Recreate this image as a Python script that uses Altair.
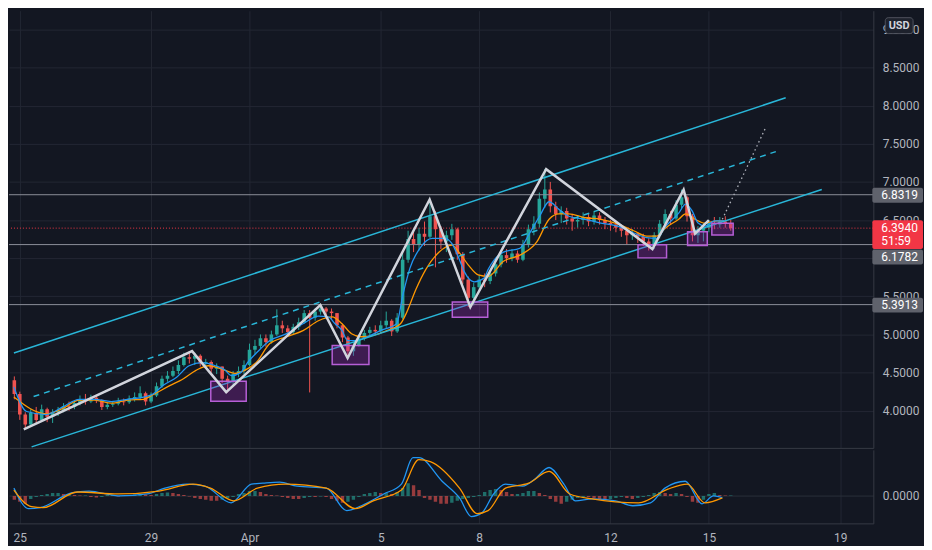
import altair as alt
import pandas as pd

# ---------------- layout / style ----------------
W = 870
H_MAIN = 440
H_MACD = 74
BG = "#131722"
GRID = "#232733"
SEP = "#363a45"
AXT = "#b2b5be"
FONT = "Roboto"
UP = "#26a69a"
DOWN = "#ef5350"

# x in days from 25 Mar 00:00
X_DOMAIN = [-0.178, 25.86]
P_DOMAIN = [3.513, 9.244]
M_DOMAIN = [-0.168, 0.282]

tick_days = [0, 4, 7, 11, 14, 18, 21, 25]
tick_labels = ["25", "29", "Apr", "5", "8", "12", "15", "19"]
price_ticks = [4.0, 4.5, 5.0, 5.5, 6.0, 6.5, 7.0, 7.5, 8.0, 8.5, 9.0]

# ---------------- candles (4h) ----------------
first_open = 4.40
close = [4.22, 3.95, 3.82, 3.97, 3.88, 4.02, 3.92, 3.98, 4.00, 4.06,
         4.05, 4.10, 4.15, 4.12, 4.17, 4.14, 4.05, 4.08, 4.09, 4.12,
         4.11, 4.16, 4.18, 4.23, 4.12, 4.20, 4.32, 4.42, 4.46, 4.52,
         4.60, 4.70, 4.68, 4.72, 4.62, 4.64, 4.55, 4.58, 4.42, 4.38,
         4.48, 4.52, 4.60, 4.80, 4.85, 4.95, 4.90, 5.00, 5.12, 5.08,
         5.03, 5.10, 5.16, 5.28, 5.22, 5.30, 5.34, 5.30, 5.28, 5.12,
         4.96, 4.78, 4.86, 4.95, 5.02, 5.06, 5.04, 5.12, 5.18, 5.04,
         5.22, 5.98, 6.25, 6.18, 6.32, 6.28, 6.55, 6.38, 6.22, 6.30,
         6.38, 6.05, 5.72, 5.48, 5.62, 5.72, 5.70, 5.80, 5.92, 6.04,
         6.00, 6.06, 5.98, 6.18, 6.38, 6.45, 6.78, 6.90, 6.68, 6.58,
         6.62, 6.52, 6.48, 6.50, 6.54, 6.48, 6.56, 6.50, 6.46, 6.44,
         6.40, 6.36, 6.30, 6.32, 6.28, 6.22, 6.16, 6.30, 6.45, 6.58,
         6.52, 6.70, 6.80, 6.55, 6.30, 6.36, 6.40, 6.46, 6.44, 6.48,
         6.45, 6.394]
high = [4.45, 4.25, 3.98, 4.02, 4.05, 4.08, 4.04, 4.02, 4.05, 4.10,
        4.12, 4.14, 4.20, 4.22, 4.21, 4.19, 4.15, 4.11, 4.12, 4.17,
        4.16, 4.20, 4.24, 4.32, 4.25, 4.24, 4.37, 4.46, 4.52, 4.58,
        4.66, 4.76, 4.78, 4.76, 4.74, 4.68, 4.66, 4.62, 4.58, 4.46,
        4.52, 4.58, 4.66, 4.88, 4.93, 5.00, 5.00, 5.05, 5.33, 5.18,
        5.12, 5.14, 5.22, 5.32, 5.32, 5.34, 5.39, 5.36, 5.34, 5.28,
        5.14, 4.98, 4.90, 5.00, 5.06, 5.10, 5.12, 5.18, 5.30, 5.20,
        5.28, 6.10, 6.36, 6.38, 6.40, 6.48, 6.77, 6.62, 6.42, 6.36,
        6.45, 6.40, 6.08, 5.76, 5.68, 5.78, 5.80, 5.84, 5.98, 6.10,
        6.12, 6.12, 6.10, 6.24, 6.44, 6.55, 6.86, 7.17, 7.00, 6.74,
        6.68, 6.66, 6.58, 6.56, 6.60, 6.58, 6.62, 6.60, 6.54, 6.50,
        6.48, 6.44, 6.40, 6.38, 6.34, 6.32, 6.26, 6.34, 6.50, 6.64,
        6.62, 6.76, 6.90, 6.82, 6.58, 6.42, 6.46, 6.50, 6.54, 6.54,
        6.55, 6.50]
low = [4.15, 3.88, 3.76, 3.80, 3.84, 3.86, 3.85, 3.84, 3.93, 3.98,
       4.00, 4.02, 4.07, 4.08, 4.10, 4.10, 4.01, 4.02, 4.05, 4.07,
       4.07, 4.09, 4.12, 4.15, 4.07, 4.10, 4.18, 4.30, 4.38, 4.44,
       4.48, 4.58, 4.62, 4.60, 4.58, 4.56, 4.50, 4.48, 4.36, 4.24,
       4.34, 4.44, 4.48, 4.58, 4.74, 4.82, 4.84, 4.88, 4.98, 5.02,
       4.98, 5.00, 5.06, 5.14, 4.24, 5.18, 5.26, 5.24, 5.20, 5.08,
       4.90, 4.69, 4.72, 4.84, 4.92, 4.98, 5.00, 5.02, 5.08, 4.98,
       5.02, 5.20, 5.94, 6.08, 6.10, 6.16, 6.26, 5.88, 6.12, 6.08,
       6.24, 5.98, 5.66, 5.36, 5.38, 5.56, 5.62, 5.66, 5.76, 5.88,
       5.94, 5.96, 5.94, 5.96, 6.14, 6.30, 6.40, 6.66, 6.60, 6.50,
       6.46, 6.44, 6.36, 6.40, 6.44, 6.42, 6.44, 6.44, 6.38, 6.36,
       6.34, 6.28, 6.18, 6.24, 6.20, 6.16, 6.10, 6.12, 6.26, 6.40,
       6.44, 6.50, 6.64, 6.48, 6.22, 6.20, 6.22, 6.34, 6.38, 6.40,
       6.40, 6.36]
candle_day = [(i - 1) / 6 for i in range(len(close))]

# ---------------- moving averages ----------------
ema_fast_day = [-0.18, 0.21, 0.80, 1.31, 1.81, 2.28, 2.79, 3.29, 3.77, 4.06,
                4.36, 4.78, 5.16, 5.55, 5.96, 6.26, 6.44, 6.73, 6.94, 7.24,
                7.62, 8.13, 8.63, 9.10, 9.40, 9.61, 9.82, 9.99, 10.20, 10.59,
                10.99, 11.48, 11.68, 11.89, 12.19, 12.57, 12.96, 13.17, 13.38, 13.55,
                13.85, 14.15, 14.27, 14.74, 15.24, 15.54, 15.84, 16.13, 16.43, 16.73,
                17.23, 17.71, 18.21, 18.71, 19.10, 19.40, 19.69, 20.08, 20.29, 20.49,
                20.67, 20.88, 21.17, 21.47]
ema_fast_val = [4.31, 3.99, 3.95, 4.05, 4.15, 4.15, 4.12, 4.15, 4.18, 4.22,
                4.33, 4.44, 4.59, 4.63, 4.59, 4.53, 4.46, 4.50, 4.63, 4.77,
                4.92, 5.01, 5.14, 5.24, 5.23, 5.14, 5.05, 4.92, 4.92, 4.97,
                5.05, 5.14, 5.53, 5.87, 6.13, 6.26, 6.26, 6.19, 6.00, 5.82,
                5.69, 5.74, 5.85, 6.08, 6.13, 6.33, 6.55, 6.74, 6.64, 6.55,
                6.51, 6.46, 6.42, 6.33, 6.27, 6.26, 6.42, 6.59, 6.71, 6.62,
                6.46, 6.42, 6.49, 6.49]
ema_slow_day = [-0.18, 0.80, 1.31, 1.81, 2.28, 2.79, 3.29, 3.77, 4.06, 4.57,
                4.95, 5.37, 5.75, 6.26, 6.55, 6.85, 7.24, 7.62, 8.13, 8.63,
                9.10, 9.52, 9.82, 10.11, 10.41, 10.80, 11.18, 11.60, 11.77, 12.07,
                12.37, 12.78, 13.17, 13.38, 13.67, 13.97, 14.27, 14.74, 15.24, 15.75,
                16.13, 16.43, 16.73, 17.23, 17.71, 18.21, 18.71, 19.10, 19.40, 19.69,
                20.08, 20.29, 20.58, 20.88, 21.26, 21.47]
ema_slow_val = [4.18, 3.96, 4.03, 4.14, 4.14, 4.10, 4.14, 4.15, 4.21, 4.33,
                4.41, 4.53, 4.59, 4.53, 4.49, 4.53, 4.65, 4.88, 4.97, 5.05,
                5.18, 5.23, 5.14, 5.01, 4.97, 4.99, 5.05, 5.14, 5.27, 5.59,
                5.85, 6.08, 6.17, 6.08, 5.91, 5.78, 5.76, 5.96, 6.04, 6.21,
                6.51, 6.58, 6.58, 6.53, 6.51, 6.45, 6.36, 6.29, 6.29, 6.40,
                6.51, 6.58, 6.51, 6.46, 6.49, 6.49]

# ---------------- drawings ----------------
upper_day = [-0.18, 23.34]
upper_price = [4.756, 8.103]
mid_day = [0.42, 23.04]
mid_price = [4.186, 7.397]
lower_day = [0.36, 24.44]
lower_price = [3.526, 6.901]

zz_day = [0.12, 5.25, 6.29, 9.16, 9.99, 12.49, 13.73, 16.04, 19.28, 20.23, 20.58, 21.00]
zz_price = [3.756, 4.782, 4.244, 5.385, 4.692, 6.769, 5.359, 7.167, 6.12, 6.897, 6.321, 6.50]
proj_day = [21.41, 22.75]
proj_price = [6.51, 7.73]

box_day0 = [5.82, 9.52, 13.18, 18.84, 20.35, 21.09]
box_day1 = [6.90, 10.64, 14.26, 19.71, 20.95, 21.74]
box_lo = [4.124, 4.606, 5.227, 6.004, 6.167, 6.304]
box_hi = [4.385, 4.855, 5.427, 6.176, 6.346, 6.458]

level_price = [6.8319, 6.1782, 5.3913]
last_price = 6.394
countdown = "51:59"

# ---------------- MACD ----------------
macd_day = [-0.18, 0.27, 0.62, 1.57, 2.11, 3.00, 3.88, 4.42, 5.10, 5.64,
            6.44, 7.06, 7.41, 7.92, 8.45, 9.34, 9.96, 10.41, 11.09, 11.63,
            11.98, 12.16, 12.87, 13.40, 13.76, 14.09, 14.44, 14.80, 15.33, 15.69,
            16.13, 16.58, 16.93, 17.44, 18.15, 18.68, 19.22, 19.66, 20.28, 20.79,
            21.14, 21.41]
macd_val = [0.048, -0.078, -0.072, 0.018, 0.030, 0.0, 0.012, 0.048, 0.072, 0.060,
            -0.042, 0.072, 0.078, 0.084, 0.060, 0.048, -0.090, -0.060, 0.012, 0.072,
            0.234, 0.234, 0.090, -0.012, -0.126, -0.102, 0.012, 0.072, 0.060, 0.102,
            0.174, 0.072, -0.030, -0.018, -0.030, -0.060, -0.042, 0.048, 0.090, -0.048,
            0.0, -0.012]
signal_day = [-0.18, 0.36, 0.71, 1.75, 3.00, 4.24, 5.28, 5.81, 6.52, 7.24,
              8.10, 9.34, 10.23, 10.77, 11.63, 12.16, 12.51, 13.40, 13.94, 14.27,
              14.80, 15.51, 16.13, 16.76, 17.44, 18.86, 19.75, 20.34, 20.88, 21.41]
signal_val = [0.036, -0.066, -0.072, 0.024, 0.012, 0.030, 0.072, 0.048, -0.030, 0.048,
              0.072, 0.048, -0.078, -0.030, 0.036, 0.222, 0.210, 0.048, -0.108, -0.090,
              0.048, 0.078, 0.150, 0.012, -0.018, -0.042, 0.042, 0.072, -0.042, -0.012]
hist_val = [-0.024, -0.036, -0.048, -0.018, -0.006, 0.006, 0.012, 0.018, 0.018, 0.012,
            0.012, 0.006, 0.003, 0.003, -0.006, -0.009, -0.006, 0.006, 0.006, -0.003,
            0.003, 0.006, 0.009, 0.012, 0.009, 0.006, 0.012, 0.018, 0.021, 0.018,
            0.012, 0.006, -0.003, -0.012, -0.018, -0.024, -0.030, -0.030, -0.024, -0.012,
            -0.006, 0.012, 0.018, 0.030, 0.030, 0.024, 0.012, 0.006, 0.003, -0.006,
            -0.012, -0.018, -0.018, -0.012, -0.006, -0.006, -0.003, -0.006, -0.018, -0.030,
            -0.042, -0.036, -0.024, -0.006, 0.012, 0.018, 0.024, 0.018, 0.018, 0.012,
            0.024, 0.048, 0.078, 0.066, 0.036, -0.012, -0.024, -0.036, -0.048, -0.048,
            -0.042, -0.030, -0.018, -0.012, -0.006, 0.006, 0.024, 0.036, 0.042, 0.036,
            0.024, 0.012, 0.012, 0.018, 0.030, 0.030, 0.018, 0.006, -0.018, -0.036,
            -0.048, -0.036, -0.024, -0.012, -0.006, -0.006, -0.012, -0.018, -0.024, -0.018,
            -0.012, -0.006, -0.012, -0.018, -0.012, -0.006, 0.006, 0.018, 0.024, 0.018,
            0.012, 0.018, 0.012, -0.006, -0.036, -0.042, -0.024, 0.012, 0.018, 0.006,
            0.003, 0.003]

# ---------------- tables ----------------
opens = [first_open] + close[:-1]
cdf = pd.DataFrame({"day": candle_day, "open": opens, "close": close,
                    "high": high, "low": low})
cdf["dir"] = ["up" if c >= o else "down" for o, c in zip(opens, close)]

kinds = []
prev = 0.0
for h in hist_val:
    if h >= 0:
        kinds.append("pos_up" if h >= prev else "pos_dn")
    else:
        kinds.append("neg_dn" if h <= prev else "neg_up")
    prev = h
hdf = pd.DataFrame({"day": candle_day, "h": hist_val, "kind": kinds})

# ---------------- axes ----------------
labels_js = "[" + ",".join(f"'{s}'" for s in tick_labels) + "]"
vals_js = "[" + ",".join(str(v) for v in tick_days) + "]"

main_x_axis = alt.Axis(values=tick_days, labels=False, ticks=False, grid=True,
                       gridColor=GRID, domain=True, domainColor=SEP, title=None)
main_y_axis = alt.Axis(orient="right", values=price_ticks, format=".4f", grid=True,
                       gridColor=GRID, ticks=False, domain=True, domainColor=SEP,
                       labelColor=AXT, labelFont=FONT, labelFontSize=12,
                       labelPadding=9, title=None)
macd_x_axis = alt.Axis(values=tick_days, labelExpr=f"{labels_js}[indexof({vals_js}, datum.value)]",
                       grid=True, gridColor=GRID, ticks=False, domain=True, domainColor=SEP,
                       labelColor=AXT, labelFont=FONT, labelFontSize=12, labelPadding=9,
                       labelFlush=False, labelOverlap=False, title=None)
macd_y_axis = alt.Axis(orient="right", values=[0], format=".4f", grid=True, gridColor="#2a2e39",
                       ticks=False, domain=True, domainColor=SEP, labelColor=AXT,
                       labelFont=FONT, labelFontSize=12, labelPadding=9, title=None)

XS = alt.Scale(domain=X_DOMAIN, nice=False, zero=False)
PS = alt.Scale(domain=P_DOMAIN, nice=False, zero=False)
MS = alt.Scale(domain=M_DOMAIN, nice=False, zero=False)


def xmain(field="day"):
    return alt.X(f"{field}:Q", scale=XS, axis=main_x_axis)


def xmacd(field="day"):
    return alt.X(f"{field}:Q", scale=XS, axis=macd_x_axis)


def penc(field):
    return alt.Y(f"{field}:Q", scale=PS, axis=main_y_axis)


def menc(field):
    return alt.Y(f"{field}:Q", scale=MS, axis=macd_y_axis, stack=None)


def line(day, val, color, width, dash=None, interp="linear"):
    kw = dict(color=color, strokeWidth=width, clip=True, interpolate=interp)
    if dash:
        kw["strokeDash"] = dash
    df = pd.DataFrame({"day": day, "p": val})
    return alt.Chart(df).mark_line(**kw).encode(x=xmain(), y=penc("p"))


candle_color = alt.Color("dir:N", scale=alt.Scale(domain=["up", "down"], range=[UP, DOWN]),
                         legend=None)

wicks = alt.Chart(cdf).mark_rule(strokeWidth=1, clip=True).encode(
    x=xmain(), y=penc("low"), y2="high:Q", color=candle_color)
bodies = alt.Chart(cdf).mark_bar(size=3.6, clip=True).encode(
    x=xmain(), y=penc("open"), y2="close:Q", color=candle_color)

ema_fast = line(ema_fast_day, ema_fast_val, "#2196f3", 1.3, interp="monotone")
ema_slow = line(ema_slow_day, ema_slow_val, "#ff9800", 1.3, interp="monotone")

ch_up = line(upper_day, upper_price, "#29b6d8", 1.5)
ch_mid = line(mid_day, mid_price, "#29b6d8", 1.5, dash=[6, 5])
ch_lo = line(lower_day, lower_price, "#29b6d8", 1.5)

levels = alt.Chart(pd.DataFrame({"p": level_price})).mark_rule(
    color="#8c8f99", strokeWidth=1).encode(y=penc("p"))
last_line = alt.Chart(pd.DataFrame({"p": [last_price]})).mark_rule(
    color="#f23645", strokeWidth=1, strokeDash=[1, 2]).encode(y=penc("p"))

bdf = pd.DataFrame({"d0": box_day0, "d1": box_day1, "lo": box_lo, "hi": box_hi})
boxes = alt.Chart(bdf).mark_rect(fill="#9c27b0", fillOpacity=0.32, stroke="#b65fd6",
                                 strokeWidth=1.5, clip=True).encode(
    x=xmain("d0"), x2="d1:Q", y=penc("lo"), y2="hi:Q")

zigzag = line(zz_day, zz_price, "#d1d4dc", 2.5)
proj = line(proj_day, proj_price, "#b2b5be", 1.3, dash=[1.5, 3])

# price tags on the axis
TAG = "#5f626c"
tag_df = pd.DataFrame({"p": [level_price[0], level_price[2]],
                       "label": [f"{level_price[0]:.4f}", f"{level_price[2]:.4f}"]})
tag_rect = alt.Chart(tag_df).mark_rect(color=TAG, yOffset=-7, y2Offset=8, cornerRadius=2).encode(
    x=alt.value(W - 1), x2=alt.value(W + 50), y=penc("p"), y2="p:Q")
tag_text = alt.Chart(tag_df).mark_text(align="left", baseline="middle", color="#ffffff",
                                       font=FONT, fontSize=12).encode(
    x=alt.value(W + 8), y=penc("p"), text="label:N")

tag2_df = pd.DataFrame({"p": [level_price[1]], "label": [f"{level_price[1]:.4f}"]})
tag2_rect = alt.Chart(tag2_df).mark_rect(color=TAG, yOffset=5, y2Offset=20, cornerRadius=2).encode(
    x=alt.value(W - 1), x2=alt.value(W + 50), y=penc("p"), y2="p:Q")
tag2_text = alt.Chart(tag2_df).mark_text(align="left", baseline="middle", color="#ffffff",
                                         font=FONT, fontSize=12, dy=13).encode(
    x=alt.value(W + 8), y=penc("p"), text="label:N")

last_df = pd.DataFrame({"p": [last_price], "label": [f"{last_price:.4f}"], "cd": [countdown]})
last_rect = alt.Chart(last_df).mark_rect(color="#f23645", yOffset=-8, y2Offset=21,
                                         cornerRadius=2).encode(
    x=alt.value(W - 1), x2=alt.value(W + 50), y=penc("p"), y2="p:Q")
last_text = alt.Chart(last_df).mark_text(align="left", baseline="middle", color="#ffffff",
                                         font=FONT, fontSize=12).encode(
    x=alt.value(W + 8), y=penc("p"), text="label:N")
last_cd = alt.Chart(last_df).mark_text(align="left", baseline="middle", color="#ffffff",
                                       font=FONT, fontSize=12, dy=13).encode(
    x=alt.value(W + 8), y=penc("p"), text="cd:N")

cur_df = pd.DataFrame({"t": ["USD"]})
usd_box = alt.Chart(cur_df).mark_rect(fill="#1e222d", stroke="#50535e", strokeWidth=1,
                                      cornerRadius=3).encode(
    x=alt.value(W + 12), x2=alt.value(W + 40), y=alt.value(7), y2=alt.value(23))
usd_text = alt.Chart(cur_df).mark_text(align="center", baseline="middle", color="#d1d4dc",
                                       font=FONT, fontSize=11, fontWeight="bold").encode(
    x=alt.value(W + 26), y=alt.value(15), text="t:N")

main = alt.layer(
    wicks, bodies, levels, last_line, ema_slow, ema_fast, ch_up, ch_mid, ch_lo,
    boxes, zigzag, proj, tag_rect, tag_text, tag2_rect, tag2_text,
    last_rect, last_text, last_cd, usd_box, usd_text,
).properties(width=W, height=H_MAIN)

# ---------------- MACD pane ----------------
hist = alt.Chart(hdf).mark_bar(size=3.4, opacity=0.6, clip=True).encode(
    x=xmacd(), y=menc("h"),
    color=alt.Color("kind:N", scale=alt.Scale(
        domain=["pos_up", "pos_dn", "neg_up", "neg_dn"],
        range=["#26a69a", "#b2dfdb", "#ffcdd2", "#ff5252"]), legend=None))
macd_line = alt.Chart(pd.DataFrame({"day": macd_day, "v": macd_val})).mark_line(
    color="#2196f3", strokeWidth=1.3, interpolate="monotone", clip=True).encode(
    x=xmacd(), y=menc("v"))
signal_line = alt.Chart(pd.DataFrame({"day": signal_day, "v": signal_val})).mark_line(
    color="#ff9800", strokeWidth=1.3, interpolate="monotone", clip=True).encode(
    x=xmacd(), y=menc("v"))

macd = alt.layer(hist, macd_line, signal_line).properties(width=W, height=H_MACD)

chart = alt.vconcat(main, macd, spacing=0).properties(
    padding=0, background=BG
).configure(font=FONT).configure_view(stroke="transparent")

chart.save("out.html", embed_options={"renderer": "svg", "actions": False})
